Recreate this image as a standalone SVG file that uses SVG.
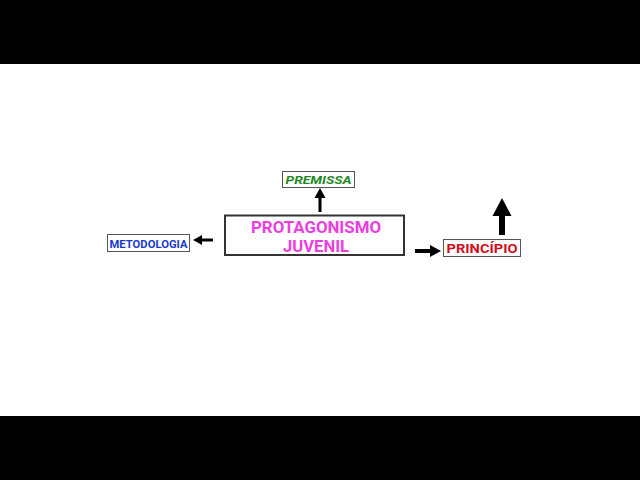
<svg xmlns="http://www.w3.org/2000/svg" width="640" height="480" viewBox="0 0 640 480">
<style>
.box{fill:#fff;stroke:#555;stroke-width:1}
.t{font-family:"Roboto","Liberation Sans",sans-serif;font-weight:bold;text-anchor:middle}
.arr{stroke:#000;fill:none}
</style>
<rect x="0" y="0" width="640" height="480" fill="#fff"/>
<rect x="0" y="0" width="640" height="64" fill="#000"/>
<rect x="0" y="416" width="640" height="64" fill="#000"/>
<g id="connectors">
<line class="arr" x1="320" y1="212" x2="320" y2="197" stroke-width="3"/>
<polygon points="320,188 314.5,198 325.5,198" fill="#000"/>
<line class="arr" x1="213" y1="240" x2="201" y2="240" stroke-width="3"/>
<polygon points="193,240 202,235 202,245" fill="#000"/>
<line class="arr" x1="415" y1="251" x2="431" y2="251" stroke-width="4"/>
<polygon points="441,251 430,245 430,257" fill="#000"/>
<line class="arr" x1="502" y1="235" x2="502" y2="214" stroke-width="6"/>
<polygon points="502,198 492.5,216 511.5,216" fill="#000"/>
</g>
<g id="protagonismo">
<rect x="225" y="215.5" width="179" height="39.5" fill="#fff" stroke="#333" stroke-width="2"/>
<text class="t" x="316" y="233" font-size="16" fill="#ec3ee0" textLength="130" lengthAdjust="spacingAndGlyphs">PROTAGONISMO</text>
<text class="t" x="316" y="252" font-size="16" fill="#ec3ee0" textLength="66" lengthAdjust="spacingAndGlyphs">JUVENIL</text>
</g>
<g id="premissa">
<rect class="box" x="282.5" y="171.5" width="72" height="16"/>
<text class="t" x="318.5" y="184" font-size="11.5" font-style="italic" fill="#1e8a1e" textLength="66" lengthAdjust="spacingAndGlyphs">PREMISSA</text>
</g>
<g id="metodologia">
<rect class="box" x="107.5" y="234.5" width="82" height="17"/>
<text class="t" x="148.5" y="247.5" font-size="11" fill="#1a3ad0" textLength="78" lengthAdjust="spacingAndGlyphs">METODOLOGIA</text>
</g>
<g id="principio">
<rect class="box" x="443.5" y="239.5" width="77" height="17"/>
<text class="t" x="482" y="253" font-size="13" fill="#d0101a" textLength="71" lengthAdjust="spacingAndGlyphs">PRINCÍPIO</text>
</g>
</svg>
